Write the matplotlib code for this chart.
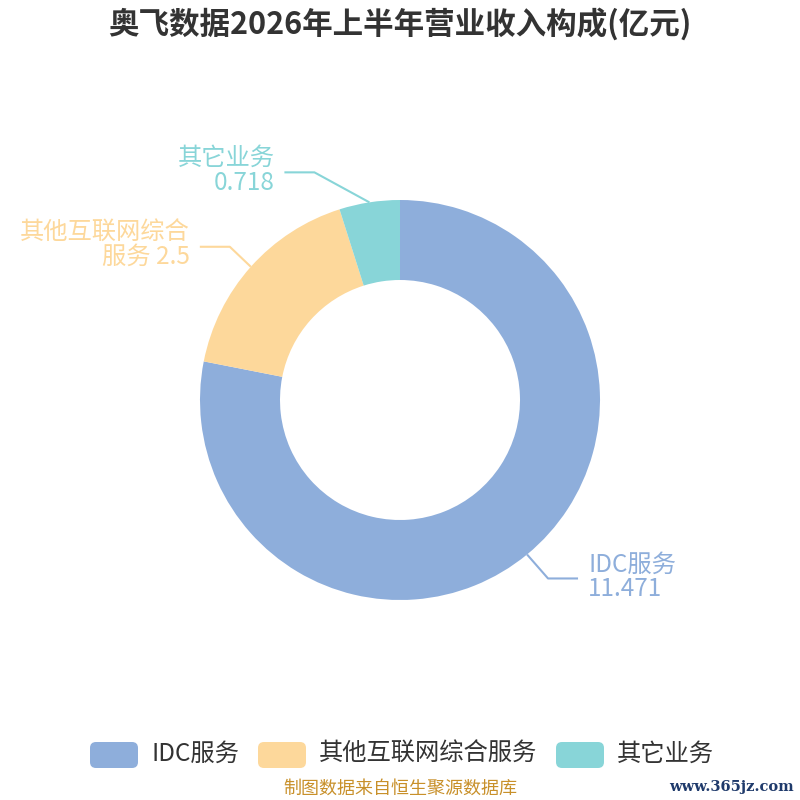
import numpy as np
import matplotlib
matplotlib.use('Agg')
import matplotlib.pyplot as plt
from matplotlib.patches import FancyBboxPatch

plt.rcParams['font.family'] = ['Noto Sans CJK SC', 'DejaVu Sans']

title = '奥飞数据2026年上半年营业收入构成(亿元)'
categories = ['IDC服务', '其他互联网综合服务', '其它业务']
label_names = ['IDC服务', '其他互联网综合\n服务', '其它业务']
values = [11.471, 2.5, 0.718]
value_text = ['11.471', '2.5', '0.718']
colors = ['#8eaedb', '#fdd89b', '#88d5d8']

W = H = 800
fig = plt.figure(figsize=(8, 8), dpi=100)
ax = fig.add_axes([0, 0, 1, 1])
ax.set_xlim(0, W)
ax.set_ylim(0, H)
ax.axis('off')

cx, cy, r_out, r_in = 400, 400, 200, 120
wedges, _ = ax.pie(values, colors=colors, startangle=90, counterclock=False,
                   center=(cx, cy), radius=r_out,
                   wedgeprops=dict(width=r_out - r_in, linewidth=0))
ax.set_xlim(0, W)
ax.set_ylim(0, H)
ax.set_aspect('equal')

# labels with two-segment leader lines
for i, w in enumerate(wedges):
    mid = np.deg2rad((w.theta1 + w.theta2) / 2)
    x0 = cx + r_out * np.cos(mid)
    y0 = cy + r_out * np.sin(mid)
    side = 1 if np.cos(mid) > 0 else -1
    if i == 0:
        x1, y1 = x0 + 21, y0 - 24
    elif i == 1:
        x1, y1 = x0 - 21, y0 + 20
    else:
        x1, y1 = x0 - 55, y0 + 30
    x2 = x1 + side * 30
    ax.plot([x0, x1, x2], [y0, y1, y1], color=colors[i], lw=1.5,
            solid_capstyle='butt')
    tx = x2 + side * 10
    if i == 1:
        txt = '其他互联网综合\n服务 ' + value_text[i]
    else:
        txt = label_names[i] + '\n' + value_text[i]
    ax.text(tx, y1 + 2, txt, color=colors[i], fontsize=17.5,
            ha='left' if side > 0 else 'right', va='center',
            linespacing=0.92)

fig.text(0.5, 1 - 24 / H, title, ha='center', va='center', fontsize=22,
         fontweight='bold', color='#333333')

# legend
lx = [90, 258, 556]
for i, name in enumerate(categories):
    ax.add_patch(FancyBboxPatch((lx[i], H - 768), 48, 26,
                                boxstyle='round,pad=0,rounding_size=6',
                                fc=colors[i], ec='none'))
    ax.text(lx[i] + 61, H - 754, name, fontsize=17.5, color='#333333',
            ha='left', va='center')

fig.text(0.5, 1 - 789 / H, '制图数据来自恒生聚源数据库', ha='center', va='center',
         fontsize=13, color='#c8902a')
fig.text(794 / W, 1 - 787 / H, 'www.365jz.com', ha='right', va='center',
         fontsize=10.5, color='#1f3a6b', family='DejaVu Serif', fontweight='bold')

fig.savefig('out.png', dpi=100)
